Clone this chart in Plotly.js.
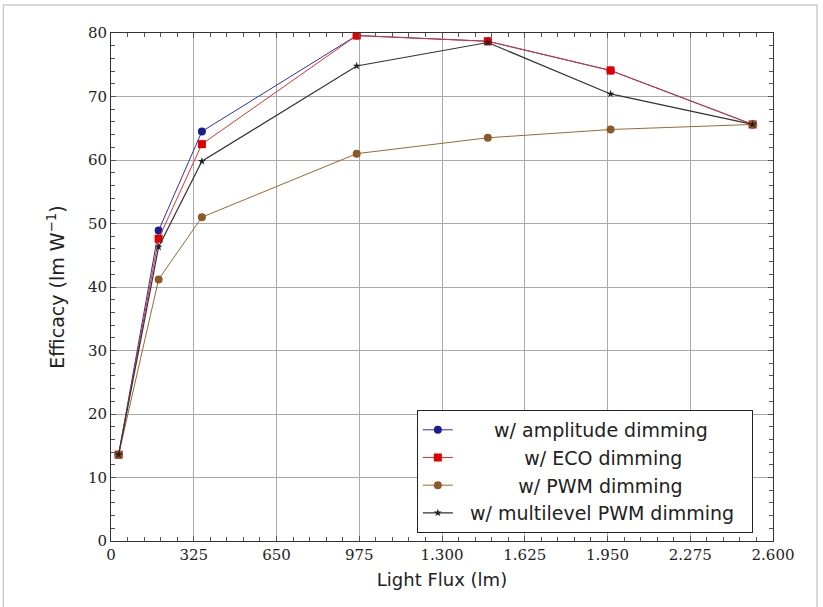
<!DOCTYPE html>
<html>
<head>
<meta charset="utf-8">
<script src="https://cdn.plot.ly/plotly-3.0.1.min.js"></script>
<style>
html,body{margin:0;padding:0;background:#fff;}
#chart{width:823px;height:607px;}
</style>
</head>
<body>
<div id="chart"></div>
<script>
// Light flux (lm)
const fluxAll = [30, 187, 357, 965, 1480, 1962, 2520];
// Efficacy (lm/W)
const amplitude = [13.6, 48.9, 64.5, 79.6, 78.7, 74.1, 65.6];
const eco       = [13.6, 47.6, 62.5, 79.6, 78.7, 74.1, 65.6];
const pwm       = [13.6, 41.2, 51.0, 61.0, 63.5, 64.8, 65.6];
const multilevel= [13.6, 46.3, 59.8, 74.8, 78.5, 70.4, 65.6];

const seriesNames = ["w/ amplitude dimming", "w/ ECO dimming", "w/ PWM dimming", "w/ multilevel PWM dimming"];

const xTickVals = [0, 325, 650, 975, 1300, 1625, 1950, 2275, 2600];
const xTickText = ["0", "325", "650", "975", "1.300", "1.625", "1.950", "2.275", "2.600"];
const yTickVals = [0, 10, 20, 30, 40, 50, 60, 70, 80];
const yTickText = ["0", "10", "20", "30", "40", "50", "60", "70", "80"];

// minor ticks: 5 subdivisions between major ticks
function subdivide(vals, n) {
  const out = [];
  for (let i = 0; i < vals.length - 1; i++) {
    const step = (vals[i + 1] - vals[i]) / n;
    for (let k = 1; k < n; k++) out.push(vals[i] + k * step);
  }
  return out;
}
const xMinor = subdivide(xTickVals, 5);
const yMinor = subdivide(yTickVals, 5);

// the reference legend centres its texts: pad with no-break spaces
const legendPadL = [6, 11, 10, 2];
const legendPadR = [0, 0, 0, 2];
const pad = n => "\u00a0".repeat(n);
const legendName = i => pad(legendPadL[i]) + seriesNames[i] + pad(legendPadR[i]);

const traces = [
  {x: fluxAll, y: amplitude, name: legendName(0), mode: "lines+markers",
   line: {color: "#3030b0", width: 1}, marker: {symbol: "circle", size: 8, color: "#1c1c90"}},
  {x: fluxAll, y: eco, name: legendName(1), mode: "lines+markers",
   line: {color: "#e03030", width: 1}, marker: {symbol: "square", size: 8, color: "#e00000"}},
  {x: fluxAll, y: pwm, name: legendName(2), mode: "lines+markers",
   line: {color: "#9a6a30", width: 1}, marker: {symbol: "circle", size: 8, color: "#8a5a28"}},
  {x: fluxAll, y: multilevel, name: legendName(3), mode: "lines+markers",
   line: {color: "#333333", width: 1.2}, marker: {symbol: "star", size: 6, color: "#222"}}
];

const tickFont = {family: "DejaVu Serif, Liberation Serif, serif", size: 15, color: "#222"};
const titleFont = {family: "DejaVu Sans, sans-serif", size: 18, color: "#222"};

const layout = {
  width: 823, height: 607,
  margin: {l: 111, r: 50, t: 33, b: 66, pad: 0},
  paper_bgcolor: "#fff", plot_bgcolor: "#fff",
  showlegend: true,
  legend: {
    x: 0.462, y: 0.258, xanchor: "left", yanchor: "top",
    bgcolor: "#fff", bordercolor: "#222", borderwidth: 1,
    font: {family: "DejaVu Sans, sans-serif", size: 19, color: "#222"},
    tracegroupgap: 0, itemwidth: 30
  },
  xaxis: {
    range: [0, 2600], tickmode: "array", tickvals: xTickVals, ticktext: xTickText,
    showgrid: true, gridcolor: "#aaaaaa", gridwidth: 1,
    zeroline: false, showline: true, linecolor: "#333", linewidth: 1, mirror: "allticks",
    ticks: "inside", ticklen: 5, tickcolor: "#555",
    minor: {tickmode: "array", tickvals: xMinor, ticks: "inside", ticklen: 4, tickwidth: 1, tickcolor: "#555", showgrid: false},
    tickfont: tickFont,
    title: {text: "Light Flux (lm)", font: titleFont, standoff: 10}
  },
  yaxis: {
    range: [0, 80], tickmode: "array", tickvals: yTickVals, ticktext: yTickText,
    showgrid: true, gridcolor: "#aaaaaa", gridwidth: 1,
    zeroline: false, showline: true, linecolor: "#333", linewidth: 1, mirror: "allticks",
    ticks: "inside", ticklen: 5, tickcolor: "#555",
    minor: {tickmode: "array", tickvals: yMinor, ticks: "inside", ticklen: 4, tickwidth: 1, tickcolor: "#555", showgrid: false},
    tickfont: tickFont,
    title: {text: "Efficacy (lm W<sup>−1</sup>)", font: {family: "DejaVu Sans, sans-serif", size: 19, color: "#222"}, standoff: 18}
  },
  shapes: [
    {type: "rect", xref: "paper", yref: "paper", x0: -0.1626, x1: 1.0665, y0: -0.2, y1: 1.055,
     line: {color: "#cccccc", width: 1.5}, fillcolor: "rgba(0,0,0,0)", layer: "below"}
  ]
};

Plotly.newPlot("chart", traces, layout, {staticPlot: true, displayModeBar: false});
</script>
</body>
</html>
